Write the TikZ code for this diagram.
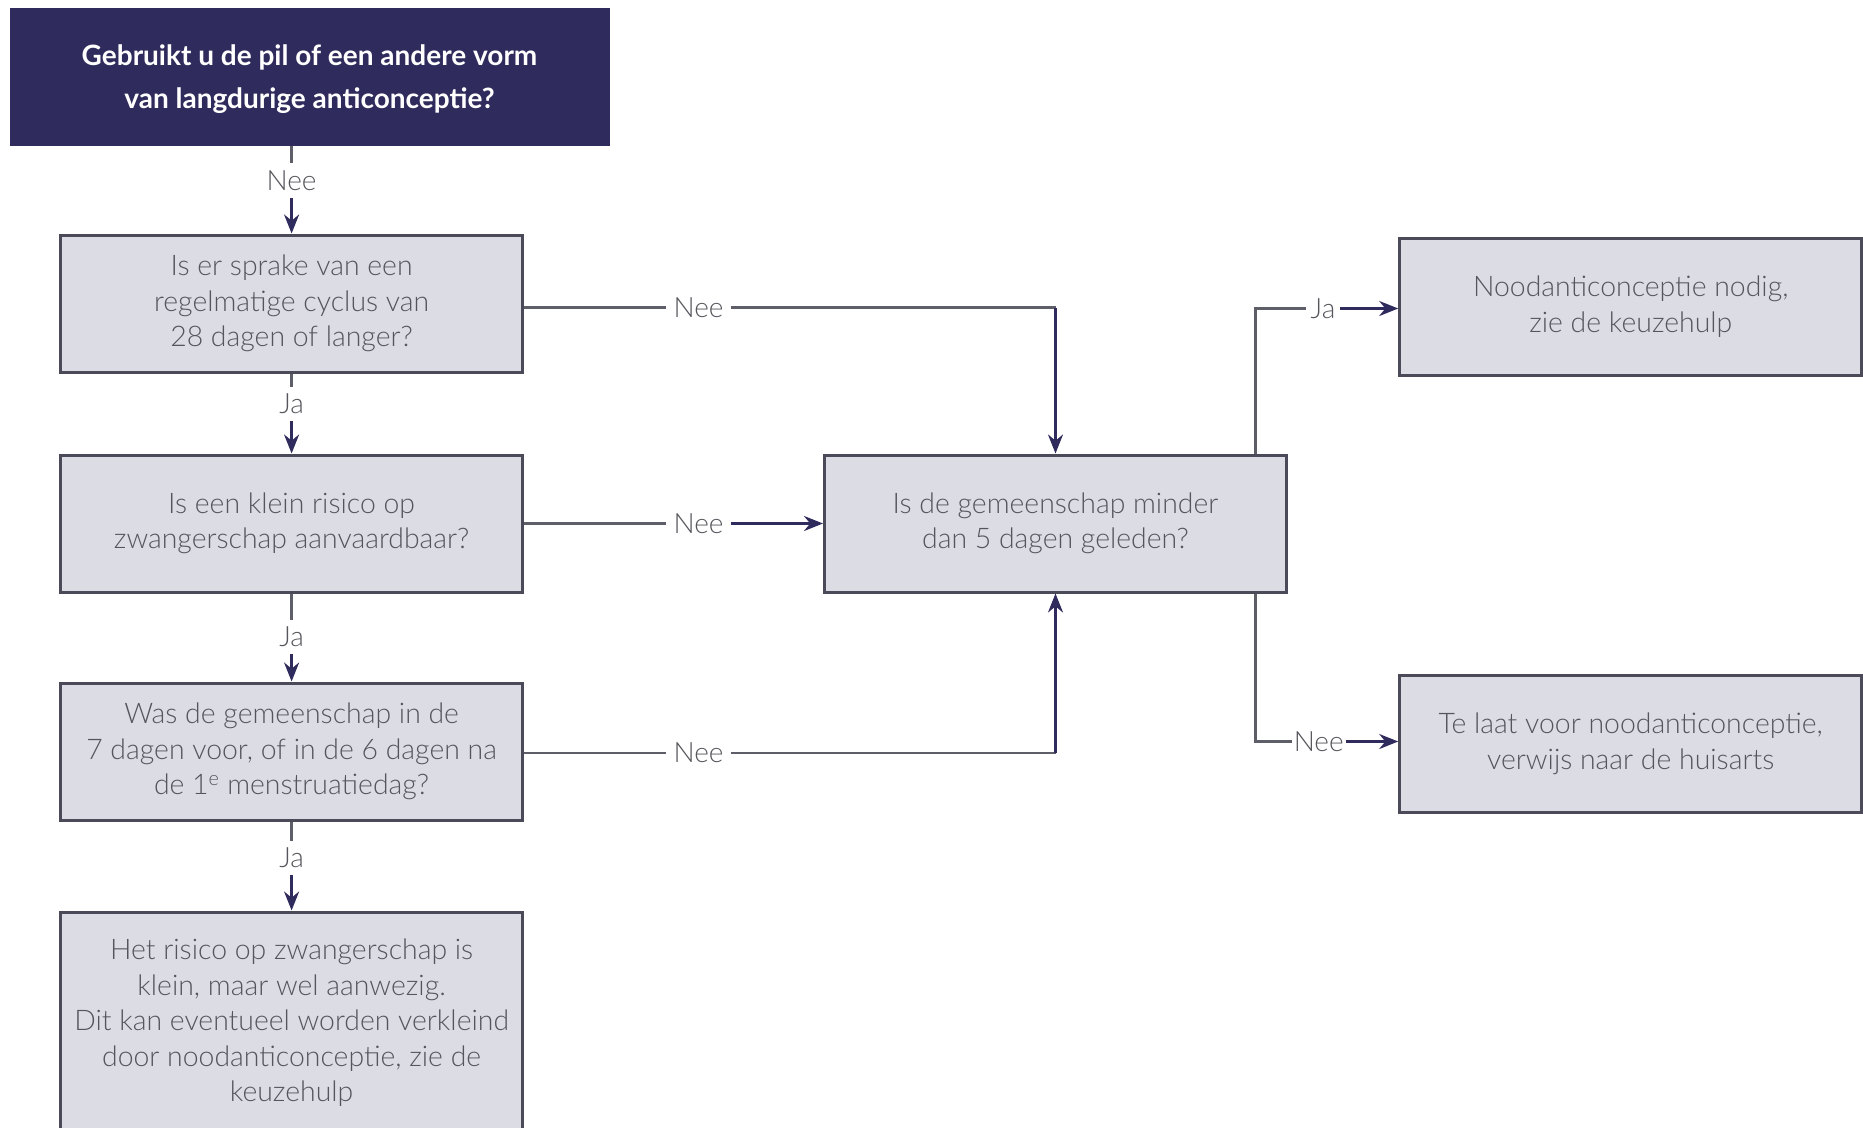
\documentclass[tikz,border=0pt]{standalone}
\usepackage{fontspec}
\setmainfont{Lato}
\newfontfamily\latolight{Lato Light}
\usetikzlibrary{arrows.meta}
\definecolor{navy}{HTML}{2F2B5C}
\definecolor{boxfill}{HTML}{DCDCE5}
\definecolor{boxline}{HTML}{4A4A58}
\definecolor{txt}{HTML}{55555C}
\definecolor{linegray}{HTML}{5E5E68}
\tikzset{
  qbox/.style={draw=boxline, line width=3pt, fill=boxfill, text=txt, align=center,
    minimum width=462pt, minimum height=137pt, inner sep=0pt,
    font=\latolight\fontsize{28.4}{35.5}\selectfont},
  topbox/.style={fill=navy, minimum width=600pt, minimum height=138pt, inner sep=0pt},
  toptext/.style={text=white, align=center, inner sep=0pt, font=\bfseries\fontsize{28}{43}\selectfont},
  lbl/.style={text=txt, inner sep=7pt, font=\latolight\fontsize{28}{30}\selectfont},
  conn/.style={draw=linegray, line width=2.5pt},
  arr/.style={draw=navy, line width=2.5pt, -{Stealth[length=19pt,width=15pt]}}
}
\begin{document}
\begin{tikzpicture}[x=1pt,y=-1pt]
\useasboundingbox (0,0) rectangle (1863,1127);
\fill[white] (0,0) rectangle (1863,1127);

\node[topbox] (top) at (309.5,77) {};
\node[toptext] (toptxt) at (309.5,79) {Gebruikt u de pil of een andere vorm\\van langdurige anticonceptie?};
\node[qbox] (q1) at (291.6,303.5) {Is er sprake van een\\regelmatige cyclus van\\28 dagen of langer?};
\node[qbox] (q2) at (291.6,523.5) {Is een klein risico op\\zwangerschap aanvaardbaar?};
\node[qbox] (q3) at (291.6,751.5) {Was de gemeenschap in de\\7 dagen voor, of in de 6 dagen na\\de 1\textsuperscript{e} menstruatiedag?};
\node[qbox, minimum height=222pt] (res) at (291.6,1023) {Het risico op zwangerschap is\\klein, maar wel aanwezig.\\Dit kan eventueel worden verkleind\\door noodanticonceptie, zie de\\keuzehulp};
\node[qbox] (mid) at (1055.5,523.5) {Is de gemeenschap minder\\dan 5 dagen geleden?};
\node[qbox] (r1) at (1630.7,306.5) {Noodanticonceptie nodig,\\zie de keuzehulp};
\node[qbox] (r2) at (1630.7,743.7) {Te laat voor noodanticonceptie,\\verwijs naar de huisarts};

% vertical chain
\node[lbl] (l0) at (291.6,180.6) {Nee};
\node[lbl] (l1) at (291.6,404) {Ja};
\node[lbl] (l2) at (291.6,637) {Ja};
\node[lbl] (l3) at (291.6,858) {Ja};
\draw[conn] (top.south -| l0) -- (l0);
\draw[arr] (l0) -- (q1.north);
\draw[conn] (q1.south) -- (l1);
\draw[arr] (l1) -- (q1.south |- q2.north);
\draw[conn] (q2.south) -- (l2);
\draw[arr] (l2) -- (q3.north);
\draw[conn] (q3.south) -- (l3);
\draw[arr] (l3) -- (res.north);

% horizontal into middle
\node[lbl] (h1) at (698.5,307.5) {Nee};
\node[lbl] (h2) at (698.5,523.5) {Nee};
\node[lbl] (h3) at (698.5,753) {Nee};
\coordinate (c1) at (1055.5,307.5);
\coordinate (c3) at (1055.5,753);
\draw[conn] (q1.east |- h1) -- (h1.west);
\draw[conn] (h1.east) -- (c1);
\draw[arr] (c1) -- (mid.north);
\draw[conn] (q2.east) -- (h2.west);
\draw[arr] (h2.east) -- (mid.west);
\draw[conn] (q3.east |- h3) -- (h3.west);
\draw[conn] (h3.east) -- (c3);
\draw[arr] (c3) -- (mid.south);

% right outcomes
\node[lbl, inner sep=5pt] (ja) at (1323,308.5) {Ja};
\node[lbl, inner sep=2pt] (nee) at (1318.7,741.5) {Nee};
\coordinate (m1) at (1255.7,308.5);
\coordinate (m2) at (1255.7,741.5);
\draw[conn] (mid.north -| m1) -- (m1) -- (ja.west);
\draw[arr] (ja.east) -- (r1.west |- ja);
\draw[conn] (mid.south -| m2) -- (m2) -- (nee.west);
\draw[arr] (nee.east) -- (r2.west |- nee);
\end{tikzpicture}
\end{document}
